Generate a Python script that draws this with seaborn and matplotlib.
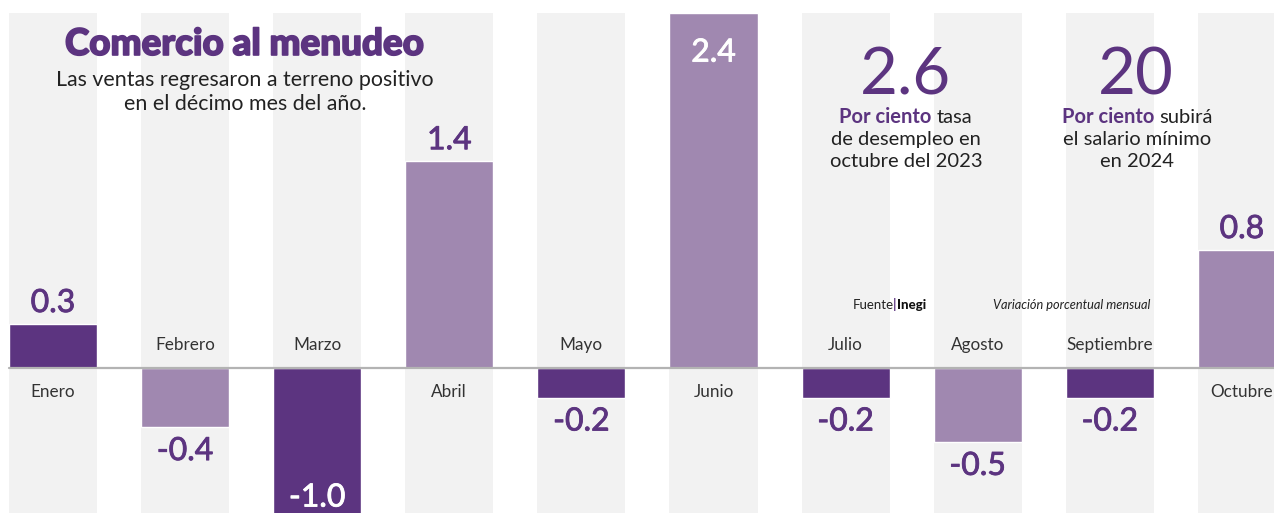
import matplotlib
matplotlib.use("Agg")
import matplotlib.pyplot as plt
import matplotlib.patheffects as pe
import seaborn as sns

# datos: variacion porcentual mensual de las ventas al menudeo
meses = ["Enero", "Febrero", "Marzo", "Abril", "Mayo", "Junio",
         "Julio", "Agosto", "Septiembre", "Octubre"]
valores = [0.3, -0.4, -1.0, 1.4, -0.2, 2.4, -0.2, -0.5, -0.2, 0.8]
tonos = ["oscuro", "claro", "oscuro", "claro", "oscuro", "claro",
         "oscuro", "claro", "oscuro", "claro"]

titulo = "Comercio al menudeo"
subtitulo = "Las ventas regresaron a terreno positivo\nen el décimo mes del año."
dato1 = "2.6"
texto1 = [("Por ciento", " tasa"), ("", "de desempleo en"), ("", "octubre del 2023")]
dato2 = "20"
texto2 = [("Por ciento", " subirá"), ("", "el salario mínimo"), ("", "en 2024")]
fuente = ("Fuente", "Inegi")
nota = "Variación porcentual mensual"

MORADO = "#5c3480"
CLARO = "#a088b0"
GRIS = "#f2f2f2"
TEXTO = "#333333"
paleta = {m: (MORADO if t == "oscuro" else CLARO) for m, t in zip(meses, tonos)}

W, H = 1274, 513
sns.set_theme(style="white")
plt.rcParams["font.family"] = ["Lato", "DejaVu Sans"]

fig = plt.figure(figsize=(W / 100, H / 100), dpi=100)
ax = fig.add_axes([0, 0, 1, 1 - 13 / H])

ancho = 0.667
for i in range(len(meses)):
    ax.axvspan(i - ancho / 2, i + ancho / 2, color=GRIS, zorder=0, lw=0)

sns.barplot(x=meses, y=valores, hue=meses, palette=paleta, width=ancho,
            saturation=1, legend=False, ax=ax, zorder=2)

ax.set_xlim(-0.401, 9.243)
ax.set_ylim(-0.978, 2.4)
ax.axhline(0, xmin=9 / W, color="#b3b3b3", lw=1.6, zorder=3)
ax.set_axis_off()

grueso = [pe.withStroke(linewidth=0.6, foreground=MORADO)]
grueso_b = [pe.withStroke(linewidth=0.6, foreground="white")]

ymin, ymax = ax.get_ylim()
for i, (m, v) in enumerate(zip(meses, valores)):
    # etiqueta del valor
    if v > 0 and v + 0.35 > ymax:
        ax.annotate(f"{v:.1f}", (i, v), xytext=(0, -35), textcoords="offset points",
                    ha="center", va="baseline", fontsize=23, color="white",
                    path_effects=grueso_b, annotation_clip=False, zorder=4)
    elif v < 0 and v - 0.35 < ymin:
        ax.annotate(f"{v:.1f}", (i, v), xytext=(0, 7), textcoords="offset points",
                    ha="center", va="baseline", fontsize=23, color="white",
                    path_effects=grueso_b, annotation_clip=False, zorder=4)
    elif v > 0:
        ax.annotate(f"{v:.1f}", (i, v), xytext=(0, 8.5), textcoords="offset points",
                    ha="center", va="baseline", fontsize=23, color=MORADO,
                    path_effects=grueso, zorder=4)
    else:
        ax.annotate(f"{v:.1f}", (i, v), xytext=(0, -23.5), textcoords="offset points",
                    ha="center", va="baseline", fontsize=23, color=MORADO,
                    path_effects=grueso, zorder=4)
    # nombre del mes
    dy = -21 if v > 0 else 13
    ax.annotate(m, (i, 0), xytext=(0, dy), textcoords="offset points",
                ha="center", va="baseline", fontsize=12.3, color=TEXTO, zorder=4)


def fx(x):
    return x / W


def fy(y):
    return 1 - y / H


fig.text(fx(65), fy(55), titulo, fontsize=26.5, fontweight="black", color=MORADO,
         va="baseline", ha="left",
         path_effects=[pe.withStroke(linewidth=1.2, foreground=MORADO)])
fig.text(fx(245), fy(110), subtitulo, fontsize=15.4, color="#222222",
         va="baseline", ha="center", linespacing=1.22, multialignment="center")

renderer = fig.canvas.get_renderer()


def linea_mixta(cx, y, negrita, normal, size):
    t1 = fig.text(0, fy(y), negrita, fontsize=size, fontweight="bold",
                  color=MORADO, va="baseline")
    t2 = fig.text(0, fy(y), normal.strip(), fontsize=size, color="#222222",
                  va="baseline")
    w1 = t1.get_window_extent(renderer).width if negrita else 0
    w2 = t2.get_window_extent(renderer).width
    gap = 0.25 * size * 100 / 72 if negrita else 0
    x0 = cx - (w1 + gap + w2) / 2
    t1.set_x(fx(x0))
    t2.set_x(fx(x0 + w1 + gap))


fig.text(fx(905), fy(95), dato1, fontsize=47, color=MORADO, ha="center", va="baseline")
for k, (b, n) in enumerate(texto1):
    linea_mixta(906, 123 + 22 * k, b, n, 14.5)

fig.text(fx(1136), fy(95), dato2, fontsize=47, color=MORADO, ha="center", va="baseline")
for k, (b, n) in enumerate(texto2):
    linea_mixta(1137, 123 + 22 * k, b, n, 14.5)

# fuente y nota
f1 = fig.text(fx(853), fy(309), fuente[0], fontsize=9.5, color="#222222", va="baseline")
wf = f1.get_window_extent(renderer).width
fig.text(fx(853 + wf - 1), fy(309), "|", fontsize=9.5, color=MORADO,
         fontweight="bold", va="baseline")
fig.text(fx(853 + wf + 3), fy(309), fuente[1], fontsize=9.5, color="#111111",
         fontweight="black", va="baseline")
fig.text(fx(1150), fy(309), nota, fontsize=9.2, color="#222222", style="italic",
         ha="right", va="baseline")

fig.savefig("out.png", dpi=100)
